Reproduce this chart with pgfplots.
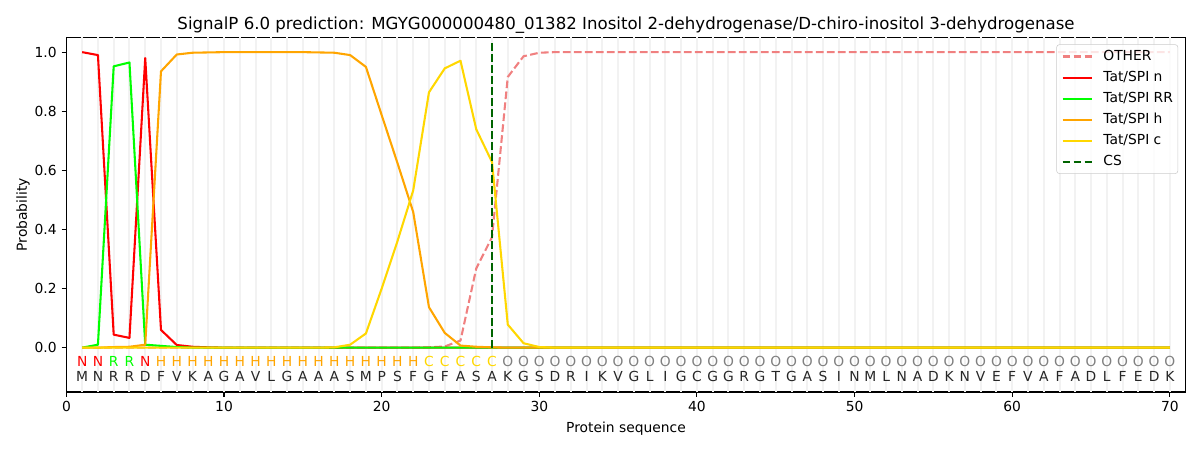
\documentclass[border=0pt]{standalone}
\usepackage{fontspec}
\setmainfont{DejaVu Sans}
\usepackage{pgfplots}
\pgfplotsset{compat=1.18}
\usepackage{pgfplotstable}
\definecolor{lightcoral}{HTML}{F08080}
\definecolor{lime}{HTML}{00FF00}
\definecolor{mplorange}{HTML}{FFA500}
\definecolor{gold}{HTML}{FFD700}
\definecolor{darkgreen}{HTML}{006400}

\pgfplotstableread{
x other n rr h c
1 0 1.0 0 0 0
2 0 0.99 0.01 0 0
3 0 0.044 0.952 0.002 0
4 0 0.033 0.965 0.003 0
5 0 0.98 0.01 0.01 0
6 0 0.06 0.006 0.935 0
7 0 0.009 0.002 0.992 0
8 0 0.003 0 0.998 0
9 0 0.001 0 0.999 0
10 0 0 0 1.0 0
11 0 0 0 1.0 0
12 0 0 0 1.0 0
13 0 0 0 1.0 0
14 0 0 0 1.0 0
15 0 0 0 1.0 0
16 0 0 0 0.999 0
17 0 0 0 0.998 0.001
18 0 0 0 0.99 0.01
19 0 0 0 0.95 0.048
20 0 0 0 0.787 0.2
21 0 0 0 0.625 0.36
22 0 0 0 0.459 0.532
23 0.001 0 0 0.137 0.864
24 0.004 0 0 0.05 0.945
25 0.024 0 0 0.007 0.971
26 0.268 0 0 0.003 0.739
27 0.374 0 0 0.001 0.628
28 0.916 0 0 0 0.078
29 0.986 0 0 0 0.015
30 0.998 0 0 0 0.002
31 1.0 0 0 0 0
32 1.0 0 0 0 0
33 1.0 0 0 0 0
34 1.0 0 0 0 0
35 1.0 0 0 0 0
36 1.0 0 0 0 0
37 1.0 0 0 0 0
38 1.0 0 0 0 0
39 1.0 0 0 0 0
40 1.0 0 0 0 0
41 1.0 0 0 0 0
42 1.0 0 0 0 0
43 1.0 0 0 0 0
44 1.0 0 0 0 0
45 1.0 0 0 0 0
46 1.0 0 0 0 0
47 1.0 0 0 0 0
48 1.0 0 0 0 0
49 1.0 0 0 0 0
50 1.0 0 0 0 0
51 1.0 0 0 0 0
52 1.0 0 0 0 0
53 1.0 0 0 0 0
54 1.0 0 0 0 0
55 1.0 0 0 0 0
56 1.0 0 0 0 0
57 1.0 0 0 0 0
58 1.0 0 0 0 0
59 1.0 0 0 0 0
60 1.0 0 0 0 0
61 1.0 0 0 0 0
62 1.0 0 0 0 0
63 1.0 0 0 0 0
64 1.0 0 0 0 0
65 1.0 0 0 0 0
66 1.0 0 0 0 0
67 1.0 0 0 0 0
68 1.0 0 0 0 0
69 1.0 0 0 0 0
70 1.0 0 0 0 0
}\probs

\begin{document}
\begin{tikzpicture}
\path[use as bounding box] (-48.0pt,-41.9pt) rectangle (819.3pt,283.3pt);
\begin{axis}[
  at={(0pt,0pt)}, anchor=south west,
  scale only axis, width=808.9pt, height=256.3pt,
  xmin=0, xmax=71, ymin=-0.15, ymax=1.05,
  xtick={0,10,...,70}, ytick={0,0.2,0.4,0.6,0.8,1.0},
  tick pos=left, tick align=outside, major tick length=3.5pt,
  tick style={black, line width=0.8pt},
  axis line style={line width=0.8pt},
  every tick label/.append style={font=\fontsize{10}{12}\selectfont},
  /pgf/number format/assume math mode=true,
  yticklabel style={/pgf/number format/.cd, fixed, fixed zerofill, precision=1},
  extra x ticks={1,2,...,70},
  extra x tick labels={},
  extra x tick style={grid=major, major grid style={gray!10, line width=1.45pt}, major tick length=0pt, tick style={draw=none}},
  every axis title/.style={at={(0.5,1)}, anchor=base, yshift=6pt, font=\fontsize{12}{14.4}\selectfont},
  title={SignalP 6.0 prediction: MGYG000000480\_01382 Inositol 2-dehydrogenase/D-chiro-inositol 3-dehydrogenase},
  every axis x label/.style={at={(axis description cs:0.5,0)}, anchor=base, yshift=-29.6pt, font=\fontsize{10}{12}\selectfont},
  every axis y label/.style={at={(axis description cs:0,0.5)}, rotate=90, anchor=base, yshift=28.5pt, font=\fontsize{10}{12}\selectfont},
  xlabel={Protein sequence}, ylabel={Probability},
  legend cell align=left,
  legend image code/.code={\draw[#1, mark=none] (0pt,0pt) -- (21pt,0pt);},
  legend style={at={(0.9934,0.9803)}, anchor=north east, font=\fontsize{10}{12}\selectfont,
    draw=black!20, rounded corners=2pt, fill=white, fill opacity=0.8, text opacity=1,
    inner xsep=3.6pt, inner ysep=1pt, row sep=0pt, column sep=0pt,
    nodes={inner xsep=0pt, inner ysep=2.75pt, text height=7.5pt, text depth=2.2pt}},
  every axis plot/.append style={line width=1.5pt, line join=round},
]
\addplot[lightcoral, dash pattern=on 5.55pt off 2.4pt] table[x=x, y=other] {\probs};
\addlegendentry{\hspace{7.7pt}OTHER}
\addplot[red] table[x=x, y=n] {\probs};
\addlegendentry{\hspace{7.7pt}Tat/SPI n}
\addplot[lime] table[x=x, y=rr] {\probs};
\addlegendentry{\hspace{7.7pt}Tat/SPI RR}
\addplot[mplorange] table[x=x, y=h] {\probs};
\addlegendentry{\hspace{7.7pt}Tat/SPI h}
\addplot[gold] table[x=x, y=c] {\probs};
\addlegendentry{\hspace{7.7pt}Tat/SPI c}
\addplot[darkgreen, dash pattern=on 5.55pt off 2.4pt] coordinates {(27,0) (27,1.035)};
\addlegendentry{\hspace{7.7pt}CS}

\pgfplotsset{lettr/.style={draw=none, forget plot, nodes near coords, point meta=explicit symbolic,
  every node near coord/.style={anchor=base, inner sep=0pt, font=\fontsize{10}{12}\selectfont, text=#1}}}
\addplot[lettr=red] coordinates {(1,-0.063)[N] (2,-0.063)[N] (5,-0.063)[N]};
\addplot[lettr=lime] coordinates {(3,-0.063)[R] (4,-0.063)[R]};
\addplot[lettr=mplorange] coordinates {(6,-0.063)[H] (7,-0.063)[H] (8,-0.063)[H] (9,-0.063)[H] (10,-0.063)[H] (11,-0.063)[H] (12,-0.063)[H] (13,-0.063)[H] (14,-0.063)[H] (15,-0.063)[H] (16,-0.063)[H] (17,-0.063)[H] (18,-0.063)[H] (19,-0.063)[H] (20,-0.063)[H] (21,-0.063)[H] (22,-0.063)[H]};
\addplot[lettr=gold] coordinates {(23,-0.063)[C] (24,-0.063)[C] (25,-0.063)[C] (26,-0.063)[C] (27,-0.063)[C]};
\addplot[lettr=gray] coordinates {(28,-0.063)[O] (29,-0.063)[O] (30,-0.063)[O] (31,-0.063)[O] (32,-0.063)[O] (33,-0.063)[O] (34,-0.063)[O] (35,-0.063)[O] (36,-0.063)[O] (37,-0.063)[O] (38,-0.063)[O] (39,-0.063)[O] (40,-0.063)[O] (41,-0.063)[O] (42,-0.063)[O] (43,-0.063)[O] (44,-0.063)[O] (45,-0.063)[O] (46,-0.063)[O] (47,-0.063)[O] (48,-0.063)[O] (49,-0.063)[O] (50,-0.063)[O] (51,-0.063)[O] (52,-0.063)[O] (53,-0.063)[O] (54,-0.063)[O] (55,-0.063)[O] (56,-0.063)[O] (57,-0.063)[O] (58,-0.063)[O] (59,-0.063)[O] (60,-0.063)[O] (61,-0.063)[O] (62,-0.063)[O] (63,-0.063)[O] (64,-0.063)[O] (65,-0.063)[O] (66,-0.063)[O] (67,-0.063)[O] (68,-0.063)[O] (69,-0.063)[O] (70,-0.063)[O]};
\addplot[lettr=black!85] coordinates {(1,-0.116)[M] (2,-0.116)[N] (3,-0.116)[R] (4,-0.116)[R] (5,-0.116)[D] (6,-0.116)[F] (7,-0.116)[V] (8,-0.116)[K] (9,-0.116)[A] (10,-0.116)[G] (11,-0.116)[A] (12,-0.116)[V] (13,-0.116)[L] (14,-0.116)[G] (15,-0.116)[A] (16,-0.116)[A] (17,-0.116)[A] (18,-0.116)[S] (19,-0.116)[M] (20,-0.116)[P] (21,-0.116)[S] (22,-0.116)[F] (23,-0.116)[G] (24,-0.116)[F] (25,-0.116)[A] (26,-0.116)[S] (27,-0.116)[A] (28,-0.116)[K] (29,-0.116)[G] (30,-0.116)[S] (31,-0.116)[D] (32,-0.116)[R] (33,-0.116)[I] (34,-0.116)[K] (35,-0.116)[V] (36,-0.116)[G] (37,-0.116)[L] (38,-0.116)[I] (39,-0.116)[G] (40,-0.116)[C] (41,-0.116)[G] (42,-0.116)[G] (43,-0.116)[R] (44,-0.116)[G] (45,-0.116)[T] (46,-0.116)[G] (47,-0.116)[A] (48,-0.116)[S] (49,-0.116)[I] (50,-0.116)[N] (51,-0.116)[M] (52,-0.116)[L] (53,-0.116)[N] (54,-0.116)[A] (55,-0.116)[D] (56,-0.116)[K] (57,-0.116)[N] (58,-0.116)[V] (59,-0.116)[E] (60,-0.116)[F] (61,-0.116)[V] (62,-0.116)[A] (63,-0.116)[F] (64,-0.116)[A] (65,-0.116)[D] (66,-0.116)[L] (67,-0.116)[F] (68,-0.116)[E] (69,-0.116)[D] (70,-0.116)[K]};
\end{axis}
\end{tikzpicture}
\end{document}
